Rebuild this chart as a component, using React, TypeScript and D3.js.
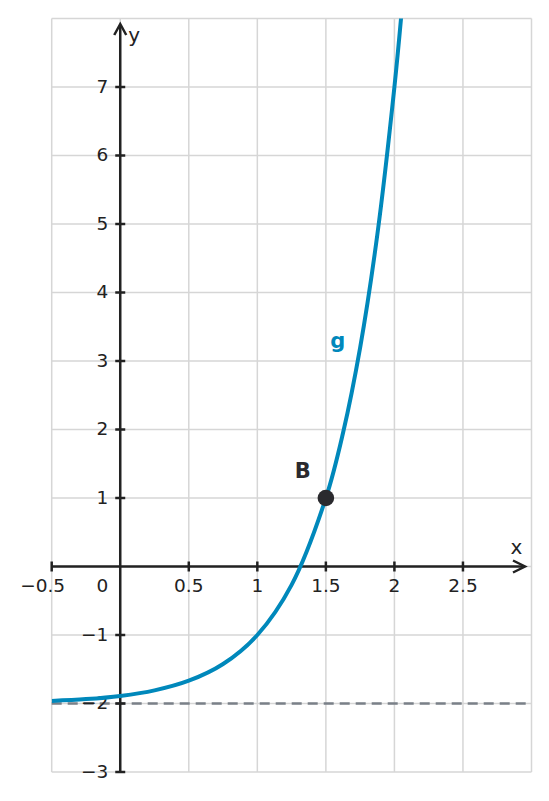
import React from "react";
import * as d3 from "d3";

const xTicks = [-0.5, 0.5, 1, 1.5, 2, 2.5];
const xTickLabels = ["−0.5", "0.5", "1", "1.5", "2", "2.5"];
const yTicks = [-3, -2, -1, 1, 2, 3, 4, 5, 6, 7];
const yTickLabels = ["−3", "−2", "−1", "1", "2", "3", "4", "5", "6", "7"];
const xGrid = [-0.5, 0, 0.5, 1, 1.5, 2, 2.5, 3];
const yGrid = [-3, -2, -1, 0, 1, 2, 3, 4, 5, 6, 7, 8];

// curve g
const curveX = [-0.5, -0.25, 0, 0.25, 0.5, 0.75, 1, 1.25, 1.5, 1.625, 1.75, 1.875, 2, 2.0625, 2.125];
const curveY = [-1.963, -1.936, -1.889, -1.808, -1.667, -1.423, -1, -0.268, 1, 1.948, 3.196, 4.839, 7, 8.32, 9.84];
const asymptoteY = -2;
const pointB = { x: 1.5, y: 1, label: "B" };
const curveLabel = { x: 1.55, y: 3.25, text: "g" };

const W = 549;
const H = 801;
const FONT = "DejaVu Sans, sans-serif";
const AX = "#222222";
const BLUE = "#0088bb";
const FS = 18.5;

export default function App() {
  const x = d3.scaleLinear().domain([-0.5, 3]).range([51.7, 531.5]);
  const y = d3.scaleLinear().domain([-3, 8]).range([772, 18.5]);
  const line = d3
    .line<number>()
    .x((_, i) => x(curveX[i]))
    .y((d) => y(d))
    .curve(d3.curveCatmullRom.alpha(0.5));
  const x0 = x(0);
  const y0 = y(0);
  const xr = x(3);
  const yt = y(8);
  return (
    <svg width={W} height={H} style={{ position: "absolute", left: 0, top: 0 }} fontFamily={FONT}>
      <defs>
        <clipPath id="plot">
          <rect x={x(-0.5)} y={yt} width={xr - x(-0.5)} height={y(-3) - yt} />
        </clipPath>
      </defs>
      <rect width={W} height={H} fill="#fff" />
      {xGrid.map((v) => (
        <line key={"gx" + v} x1={x(v)} x2={x(v)} y1={y(-3)} y2={yt} stroke="#d6d6d6" strokeWidth={1.5} />
      ))}
      {yGrid.map((v) => (
        <line key={"gy" + v} x1={x(-0.5)} x2={xr} y1={y(v)} y2={y(v)} stroke="#d6d6d6" strokeWidth={1.5} />
      ))}
      <line
        x1={x(-0.5)}
        x2={xr}
        y1={y(asymptoteY)}
        y2={y(asymptoteY)}
        stroke="#7a8088"
        strokeWidth={2.5}
        strokeDasharray="10 6"
      />
      {/* axes */}
      <line x1={x(-0.5)} x2={xr - 8} y1={y0} y2={y0} stroke={AX} strokeWidth={2.5} />
      <path d={`M${xr - 18.5},${y0 - 6} L${xr - 6.5},${y0} L${xr - 18.5},${y0 + 6}`} fill="none" stroke={AX} strokeWidth={2.5} />
      <line x1={x0} x2={x0} y1={y(-3)} y2={yt + 7} stroke={AX} strokeWidth={2.5} />
      <path d={`M${x0 - 6},${yt + 16.5} L${x0},${yt + 5.5} L${x0 + 6},${yt + 16.5}`} fill="none" stroke={AX} strokeWidth={2.5} />
      {xTicks.map((v, i) => (
        <g key={"xt" + v}>
          <line x1={x(v)} x2={x(v)} y1={y0 - 5} y2={y0 + 5} stroke={AX} strokeWidth={2.5} />
          <text x={x(v) + (v < 0 ? -9 : 0)} y={y0 + 25.5} textAnchor="middle" fontSize={FS} fill={AX}>
            {xTickLabels[i]}
          </text>
        </g>
      ))}
      {yTicks.map((v, i) => (
        <g key={"yt" + v}>
          <line x1={x0 - 5} x2={x0 + 5} y1={y(v)} y2={y(v)} stroke={AX} strokeWidth={2.5} />
          <text x={x0 - 12} y={y(v) + 5.5} textAnchor="end" fontSize={FS} fill={AX}>
            {yTickLabels[i]}
          </text>
        </g>
      ))}
      <text x={x0 - 12} y={y0 + 25.5} textAnchor="end" fontSize={FS} fill={AX}>0</text>
      <text x={xr - 21} y={y0 - 13} fontSize={20} fill={AX}>x</text>
      <text x={x0 + 8} y={yt + 23} fontSize={20} fill={AX}>y</text>
      <path d={line(curveY) || ""} fill="none" stroke={BLUE} strokeWidth={4} clipPath="url(#plot)" />
      <circle cx={x(pointB.x)} cy={y(pointB.y)} r={8.3} fill="#2a2a2e" />
      <text x={x(pointB.x) - 23} y={y(pointB.y) - 20} textAnchor="middle" fontSize={21} fontWeight="bold" fill="#2a2a2e">
        {pointB.label}
      </text>
      <text x={x(curveLabel.x) + 5} y={y(curveLabel.y) + 4} textAnchor="middle" fontSize={21} fontWeight="bold" fill={BLUE}>
        {curveLabel.text}
      </text>
    </svg>
  );
}
